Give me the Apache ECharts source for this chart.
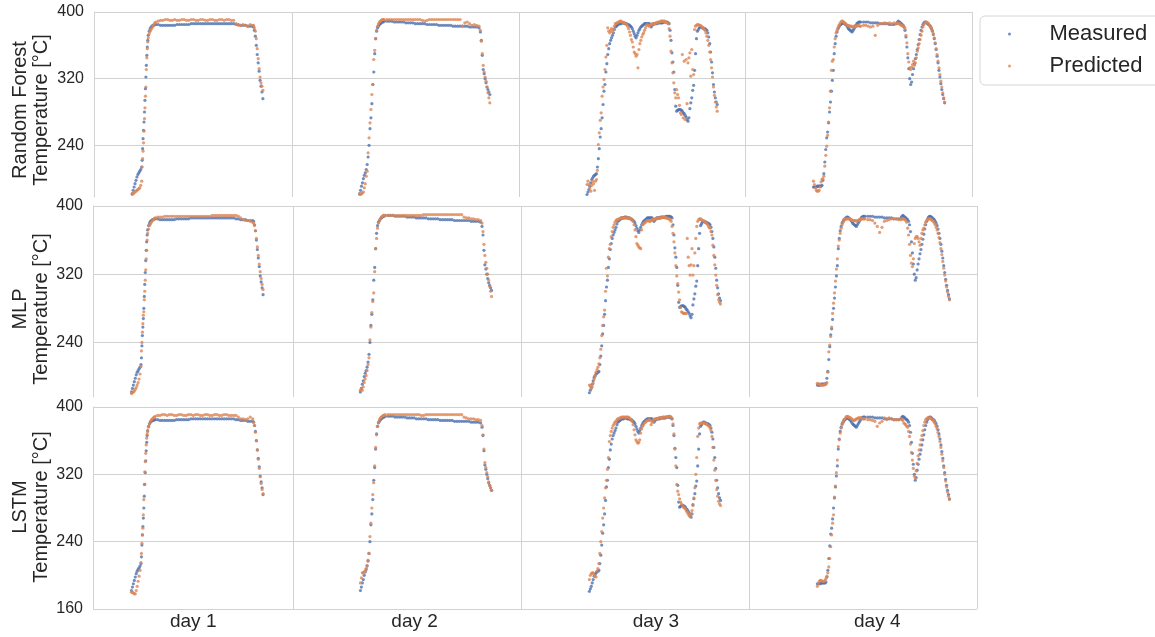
<!DOCTYPE html>
<html>
<head>
<meta charset="utf-8">
<title>Temperature: measured vs predicted</title>
<script src="https://cdn.jsdelivr.net/npm/echarts@6.0.0/dist/echarts.min.js"></script>
<style>
  html, body { margin: 0; padding: 0; background: #ffffff; }
  #chart { width: 1155px; height: 637px; }
</style>
</head>
<body>
<div id="chart"></div>
<script>
// Sampling clock of each day: [first hour, last hour, step in hours]
const day1Clock = [[7.0, 8.0, 0.1], [8.05, 8.7, 0.05], [8.8, 9.5, 0.1], [9.75, 19.75, 0.25], [19.85, 20.85, 0.1]];
const day2Clock = [[7.1, 9.7, 0.1], [10.0, 19.75, 0.25], [19.9, 20.9, 0.1]];
const day3Clock = [[7.2, 21.0, 0.1]];
const day4Clock = [[7.2, 12.2, 0.1], [12.5, 15.75, 0.25], [16.0, 21.1, 0.1]];

// Temperatures in °C, one value per sample of the day's clock
const day1Measured = [
  182,186,190,194,198,202,205,207,209,211,214,
  222,236,248,258,268,280,294,308,322,336,348,358,366,372,
  377,380,382,383,384,384,385,385,
  385,384,384,384,384,384,384,384,385,385,385,385,385,385,386,386,386,386,386,386,
  386,386,386,386,386,386,386,386,386,386,386,386,386,385,385,384,384,384,383,383,383,
  382,378,371,360,349,339,329,318,311,304,296
];
const day1RandomForest = [
  181,182,183,184,185,186,187,188,189,192,197,
  214,224,233,243,257,272,285,299,310,331,345,356,364,369,
  374,377,379,381,383,385,387,388,
  389,390,390,391,391,390,390,391,390,390,391,391,390,390,391,391,390,390,391,391,390,
  390,391,391,390,390,391,391,390,391,391,390,390,386,384,384,385,384,383,385,384,
  384,381,377,368,356,344,332,322,315,311,306
];
const day1MLP = [
  180,181,182,183,185,187,190,193,197,203,212,
  230,240,252,262,272,276,290,300,313,325,338,348,360,368,
  373,377,379,381,383,384,385,386,
  387,387,387,388,388,388,388,388,388,388,388,388,388,388,388,388,388,388,388,388,388,
  388,388,389,389,389,389,389,389,389,389,389,389,389,388,386,384,383,383,382,381,
  380,377,371,362,352,342,332,323,315,308,302
];
const day1LSTM = [
  180,180,179,178,178,182,187,193,199,206,215,
  226,238,248,256,272,290,308,323,335,345,355,363,368,371,
  376,380,383,385,386,387,388,389,
  390,390,391,391,390,391,391,390,390,391,391,390,390,391,391,390,391,391,390,390,391,
  391,390,390,391,391,390,390,391,391,390,390,390,390,388,386,386,385,386,388,386,
  382,378,370,360,349,338,327,317,309,302,297
];

const day2Measured = [
  182,186,191,195,200,204,207,211,217,226,240,260,273,290,313,328,350,368,377,381,
  383,385,386,387,388,388,389,
  389,389,389,388,388,388,388,388,387,387,387,387,386,386,386,386,386,385,385,385,
  385,385,384,384,384,384,384,384,383,383,383,383,383,383,383,382,382,382,382,381,
  376,366,348,331,326,320,315,310,307,304,301
];
const day2RandomForest = [
  181,181,182,183,184,189,194,203,209,231,249,267,283,301,313,343,354,368,378,383,
  386,388,389,390,391,391,391,
  391,391,391,391,391,391,391,391,391,391,391,391,391,391,391,390,389,390,391,391,
  391,391,391,391,391,391,391,391,391,391,391,391,383,387,388,386,384,385,384,383,
  378,365,350,336,328,322,317,310,303,297,291
];
const day2MLP = [
  184,185,184,188,193,197,201,207,214,222,243,258,275,288,298,323,350,362,374,380,
  383,385,387,388,389,389,389,
  389,389,389,389,389,389,389,389,389,389,389,389,389,389,389,390,390,390,390,390,
  390,390,390,390,390,390,390,390,390,390,390,390,387,386,386,385,385,384,384,383,
  380,370,355,342,334,327,320,313,306,300,294
];
const day2LSTM = [
  191,197,203,203,204,205,208,212,218,226,246,262,280,296,310,330,352,367,377,382,
  385,387,388,389,390,390,391,
  391,391,391,391,391,391,391,391,391,391,391,391,391,391,390,390,391,391,391,391,
  391,391,391,391,391,391,391,391,391,391,391,391,388,387,386,386,386,385,385,384,
  378,367,350,334,328,322,317,311,307,304,301
];

const day3Measured = [
  181,184,187,191,195,199,201,203,204,205, 206,214,224,236,250,260,273,289,305,313,
  328,338,349,356,362,366,369,372,375,379, 382,383,384,385,386,386,386,387,387,387,
  386,386,386,385,385,384,383,382,380,377, 374,371,369,372,375,378,380,382,383,384,
  385,386,386,386,386,386,386,384,382,384, 385,386,386,386,386,387,387,387,387,387,
  387,388,388,388,388,388,387,386,378,366, 351,340,328,307,287,281,282,283,283,283,
  282,281,279,278,276,274,271,269,273,284, 291,297,306,312,330,350,368,377,379,381,
  382,382,381,381,380,380,379,378,375,370, 362,352,340,327,313,304,297,292,289
];
const day3RandomForest = [
  193,197,193,189,185,192,197,194,186,197, 199,210,241,255,270,279,299,310,319,331,
  346,360,381,377,375,378,380,376,379,383, 386,386,387,388,388,389,389,388,388,387,
  387,386,385,383,380,376,372,367,364,358, 352,350,347,349,333,355,362,366,370,373,
  375,378,381,384,385,384,383,384,385,386, 385,386,386,387,387,388,388,388,389,389,
  389,389,389,388,388,387,386,380,371,353, 339,327,315,303,297,307,301,297,288,279,
  277,349,273,341,271,343,290,339,345,351, 323,355,331,325,379,383,384,385,385,384,
  384,383,382,381,380,378,375,371,366,360, 352,343,333,322,310,300,292,286,281
];
const day3MLP = [
  190,189,186,188,192,197,201,205,208,211, 215,222,232,248,260,270,278,300,327,318,
  340,350,355,364,370,375,378,381,383,384, 384,385,385,386,386,386,386,386,386,386,
  386,386,386,385,385,384,382,378,372,364, 356,354,352,351,350,372,378,379,380,381,
  382,383,383,382,382,383,384,384,384,385, 385,385,386,386,386,386,386,387,387,387,
  386,386,386,385,385,384,382,376,368,358, 345,330,318,309,299,290,281,276,275,274,
  274,274,274,362,340,330,319,331,350,319, 330,345,362,376,382,384,385,385,384,383,
  383,382,381,380,379,377,375,374,370,366, 354,342,331,319,307,296,290,287,285
];
const day3LSTM = [
  195,200,202,203,203,201,199,198,205,208, 214,226,240,252,268,280,292,304,313,326,
  340,359,366,371,375,378,380,382,383,385, 386,386,387,387,388,388,388,388,388,388,
  388,388,387,386,385,383,379,373,367,361, 359,357,358,361,369,374,377,379,381,382,
  383,384,384,385,384,379,382,384,385,386, 386,386,386,387,387,387,387,388,388,388,
  388,388,388,389,389,389,388,386,380,368, 350,330,308,300,296,291,287,285,283,281,
  280,279,277,275,273,271,270,273,277,283, 292,304,320,340,365,375,380,381,381,381,
  381,381,380,380,379,378,377,375,372,365, 352,337,325,313,302,294,288,285,283
];

const day4Measured = [
  190,190,190,190,191,191,191,191,191,192, 198,206,220,235,249,256,267,280,292,305,
  318,330,350,362,371,376,380,382,384,385, 386,387,387,386,385,384,382,380,379,378,
  377,376,378,380,382,384,386,387,388,388, 388,
  388,388,388,387,387,387,387,386,386,386,386,385,385,385,
  386,388,389,388,387,386,385,384,382,378, 370,358,345,332,320,313,316,325,332,338,
  344,349,355,361,367,373,378,382,385,387, 388,388,387,386,385,384,382,380,377,373,
  368,362,355,347,339,330,322,314,307,301, 296,291
];
const day4RandomForest = [
  197,193,189,186,185,185,186,190,196,199, 200,203,215,228,239,252,268,285,305,330,
  341,343,358,368,375,378,381,384,386,388, 389,389,388,387,386,385,384,384,383,383,
  383,382,382,383,383,383,383,384,384,383, 383,
  384,384,383,382,383,372,384,386,386,387,386,387,386,387,
  386,387,386,386,385,384,384,383,382,380, 372,363,350,340,333,331,334,337,341,336,
  339,345,353,357,362,367,372,377,382,385, 387,388,388,387,386,384,383,381,378,374,
  369,363,356,349,341,333,325,317,310,303, 297,292
];
const day4MLP = [
  192,191,191,191,190,190,190,190,191,191, 193,205,229,237,247,258,274,286,298,312,
  326,338,353,360,368,374,378,381,384,384, 385,385,385,385,385,384,384,383,383,383,
  383,382,383,383,384,384,385,385,385,385, 385,
  384,384,383,380,376,369,375,382,383,384,385,385,385,384,
  384,385,385,385,384,383,381,374,366,355, 342,333,329,338,356,362,364,364,362,358,
  354,362,368,372,374,378,381,383,384,385, 385,385,384,383,382,380,378,375,372,368,
  363,357,350,343,335,327,319,312,305,299, 294,290
];
const day4LSTM = [
  187,190,193,194,194,193,193,193,194,196, 199,203,210,220,234,248,262,272,293,306,
  322,337,353,361,369,375,379,382,385,386, 388,389,389,388,387,387,386,385,384,384,
  385,386,386,387,387,387,387,386,386,386, 386,
  385,385,384,383,377,381,383,387,385,387,386,385,385,385,
  386,385,384,381,380,379,377,376,371,365, 356,346,337,327,318,316,324,333,342,349,
  355,361,366,372,378,382,385,386,387,387, 387,387,386,385,384,382,380,377,374,370,
  365,359,352,344,336,328,320,312,305,299, 294,290
];

// Labels and ticks
const modelNames = ['Random Forest', 'MLP', 'LSTM'];
const dayLabels = ['day 1', 'day 2', 'day 3', 'day 4'];
const dayLabelHours = [13.5, 36.8, 62.2, 85.5];
const dayBoundaryHours = [24, 48, 72, 96];
const yTickValues = [[240, 320, 400], [240, 320, 400], [160, 240, 320, 400]];

const clocks = [day1Clock, day2Clock, day3Clock, day4Clock];
const measuredByDay = [day1Measured, day2Measured, day3Measured, day4Measured];
const predictedByModel = [
  [day1RandomForest, day2RandomForest, day3RandomForest, day4RandomForest],
  [day1MLP, day2MLP, day3MLP, day4MLP],
  [day1LSTM, day2LSTM, day3LSTM, day4LSTM]
];

// Hours since the start of day 1 for every sample of a day
function sampleHours(clock, dayIndex) {
  const hours = [];
  clock.forEach(([from, to, step]) => {
    const n = Math.round((to - from) / step);
    for (let i = 0; i <= n; i++) hours.push(+(24 * dayIndex + from + i * step).toFixed(3));
  });
  return hours;
}

function toPoints(valuesByDay) {
  const pts = [];
  valuesByDay.forEach((values, d) => {
    const hours = sampleHours(clocks[d], d);
    values.forEach((v, i) => { if (i < hours.length) pts.push([hours[i], v]); });
  });
  return pts;
}

const FONT = '"Liberation Sans", Arial, Helvetica, sans-serif';
const TEXT = '#262626';
const GRID_LINE = '#d2d2d2';
const BLUE = '#4c72b0';
const ORANGE = '#dd8452';

const rowGrids = [
  { left: 94, top: 12, width: 878, height: 185 },
  { left: 93, top: 206, width: 884, height: 191 },
  { left: 93, top: 407, width: 884, height: 202 }
];
const rowMin = [178, 176, 160];
const nameCenterY = [110, 309, 507];

const measuredPoints = toPoints(measuredByDay);

const option = {
  animation: false,
  backgroundColor: '#ffffff',
  textStyle: { fontFamily: FONT },
  grid: rowGrids.map(g => Object.assign({ containLabel: false }, g)),
  xAxis: rowGrids.map((g, r) => ({
    type: 'value',
    gridIndex: r,
    min: 2.95,
    max: 96,
    axisLine: { show: false },
    axisTick: { show: false, customValues: dayBoundaryHours },
    splitLine: { show: true, lineStyle: { color: GRID_LINE, width: 1 } },
    axisLabel: r === 2 ? {
      show: true,
      customValues: dayLabelHours,
      formatter: v => dayLabels[dayLabelHours.indexOf(v)] || '',
      color: TEXT, fontSize: 19, fontFamily: FONT, margin: 3
    } : { show: false }
  })),
  yAxis: rowGrids.map((g, r) => ({
    type: 'value',
    gridIndex: r,
    min: rowMin[r],
    max: 400,
    axisLine: { show: true, onZero: false, lineStyle: { color: GRID_LINE, width: 1 } },
    axisTick: { show: false, customValues: yTickValues[r] },
    axisLabel: { customValues: yTickValues[r], color: TEXT, fontSize: 16, fontFamily: FONT, margin: 10 },
    splitLine: { show: true, lineStyle: { color: GRID_LINE, width: 1 } }
  })),
  legend: {
    data: ['Measured', 'Predicted'],
    orient: 'vertical',
    left: 980,
    top: 16,
    icon: 'circle',
    itemWidth: 10,
    itemHeight: 3,
    itemGap: 10,
    padding: [7, 20, 8, 28],
    backgroundColor: '#ffffff',
    borderColor: '#d6d6d6',
    borderWidth: 1,
    borderRadius: 5,
    selectedMode: false,
    textStyle: { color: TEXT, fontSize: 22, fontFamily: FONT, padding: [0, 0, 0, 30] }
  },
  graphic: modelNames.map((m, r) => ({
    type: 'text',
    x: 31,
    y: nameCenterY[r],
    rotation: Math.PI / 2,
    silent: true,
    style: {
      text: m + '\nTemperature [°C]',
      font: '20px ' + FONT,
      fill: TEXT,
      textAlign: 'center',
      textVerticalAlign: 'middle',
      lineHeight: 21
    }
  })),
  series: []
};

modelNames.forEach((m, r) => {
  option.series.push({
    name: 'Measured',
    type: 'scatter',
    xAxisIndex: r,
    yAxisIndex: r,
    symbolSize: 3.2,
    silent: true,
    itemStyle: { color: BLUE },
    data: measuredPoints
  });
  option.series.push({
    name: 'Predicted',
    type: 'scatter',
    xAxisIndex: r,
    yAxisIndex: r,
    symbolSize: 3.2,
    silent: true,
    itemStyle: { color: ORANGE },
    data: toPoints(predictedByModel[r])
  });
});

const chart = echarts.init(document.getElementById('chart'), null, { renderer: 'canvas' });
chart.setOption(option);
</script>
</body>
</html>
